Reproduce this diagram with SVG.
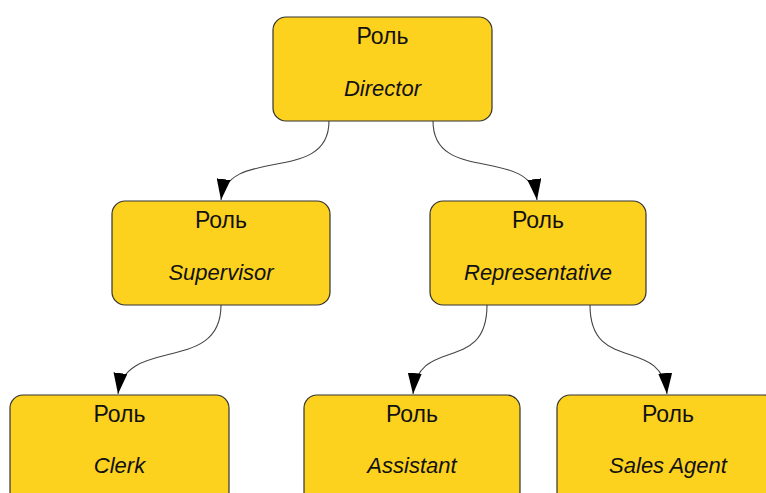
<svg xmlns="http://www.w3.org/2000/svg" width="766" height="493" viewBox="0 0 766 493">
<style>
.box{fill:#FDD21F;stroke:#333;stroke-width:1.2}
.t{font-family:"Liberation Sans",Arial,sans-serif;font-size:22px;fill:#111;text-anchor:middle}
.r{font-size:23px}
.n{font-style:italic}
.e{fill:none;stroke:#444;stroke-width:1.1}
</style>
<defs>
<marker id="arr" markerWidth="21" markerHeight="14" refX="21" refY="7" orient="auto" markerUnits="userSpaceOnUse">
<path d="M0,0 L21,7 L0,14 z" fill="#000"/>
</marker>
</defs>
<rect width="766" height="493" fill="#fff"/>
<g id="connectors">
<path class="e" d="M329,121 C329,185 228,145 221,200" marker-end="url(#arr)"/>
<path class="e" d="M433,121 C433,185 530,145 537,200" marker-end="url(#arr)"/>
<path class="e" d="M221,305 C221,375 125,335 118,394" marker-end="url(#arr)"/>
<path class="e" d="M487,305 C487,375 418,335 413,394" marker-end="url(#arr)"/>
<path class="e" d="M590,305 C590,375 662,335 667,394" marker-end="url(#arr)"/>
</g>
<g id="director">
<rect class="box" x="273" y="17" width="219" height="104" rx="13"/>
<text class="t r" x="382.5" y="44">Роль</text>
<text class="t n" x="382.5" y="96">Director</text>
</g>
<g id="supervisor">
<rect class="box" x="112" y="201" width="218" height="104" rx="13"/>
<text class="t r" x="221" y="228">Роль</text>
<text class="t n" x="221" y="280">Supervisor</text>
</g>
<g id="representative">
<rect class="box" x="430" y="201" width="216" height="104" rx="13"/>
<text class="t r" x="538" y="228">Роль</text>
<text class="t n" x="538" y="280">Representative</text>
</g>
<g id="clerk">
<rect class="box" x="10" y="395" width="219" height="110" rx="13"/>
<text class="t r" x="119.5" y="422">Роль</text>
<text class="t n" x="119.5" y="473">Clerk</text>
</g>
<g id="assistant">
<rect class="box" x="304" y="395" width="216" height="110" rx="13"/>
<text class="t r" x="412" y="422">Роль</text>
<text class="t n" x="412" y="473">Assistant</text>
</g>
<g id="sales-agent">
<rect class="box" x="557" y="395" width="220" height="110" rx="13"/>
<text class="t r" x="668" y="422">Роль</text>
<text class="t n" x="668" y="473">Sales Agent</text>
</g>
</svg>
